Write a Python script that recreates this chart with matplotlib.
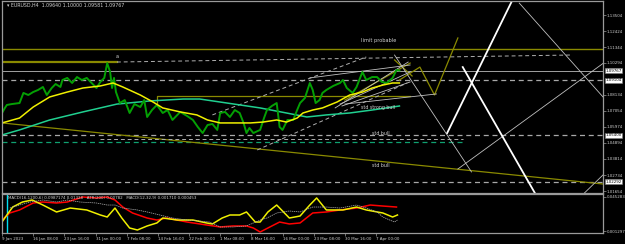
import matplotlib.pyplot as plt

BG = "black"
FG = "#d0d0d0"
FRAME = "#9a9a9a"
OLIVE = "#8a8a00"
YELLOW = "#f0f000"
TEAL = "#20d090"
GREEN = "#04a004"

# ---- price (H4 bar index -> close) ----
price_bar = [0, 3, 5, 10, 18, 22, 27, 32, 37, 42,
             46, 51, 55, 60, 62, 67, 72, 77, 82, 87,
             93, 97, 101, 105, 108, 111, 113, 115, 117, 121,
             126, 131, 136, 142, 146, 149, 154, 159, 165, 170,
             175, 183, 190, 196, 201, 206, 211, 216, 221, 224,
             229, 234, 239, 244, 248, 251, 254, 258, 265, 269,
             272, 277, 282, 285, 288, 293, 299, 303, 306, 311,
             316, 319, 322, 326, 329, 333, 340, 347, 350, 354,
             360, 364, 370, 374, 380, 385, 390, 395, 401, 405, 408]
price_close = [1.0691, 1.0725, 1.0745, 1.0751, 1.0758, 1.0826, 1.0812, 1.0832, 1.0846, 1.0866,
               1.0812, 1.0859, 1.0886, 1.0866, 1.0913, 1.0927, 1.0893, 1.0933, 1.0913, 1.0927,
               1.0886, 1.0859, 1.0900, 1.0927, 1.1027, 1.0967, 1.0859, 1.0927, 1.0832, 1.0758,
               1.0778, 1.0691, 1.0751, 1.0731, 1.0778, 1.0664, 1.0711, 1.0745, 1.0691, 1.0711,
               1.0644, 1.0698, 1.0671, 1.0644, 1.0597, 1.0556, 1.0610, 1.0617, 1.0577, 1.0691,
               1.0698, 1.0664, 1.0711, 1.0691, 1.0624, 1.0556, 1.0590, 1.0556, 1.0577, 1.0657,
               1.0711, 1.0738, 1.0758, 1.0597, 1.0577, 1.0644, 1.0644, 1.0711, 1.0758, 1.0792,
               1.0893, 1.0846, 1.0758, 1.0778, 1.0826, 1.0846, 1.0873, 1.0893, 1.0913, 1.0859,
               1.0826, 1.0866, 1.0967, 1.0913, 1.0933, 1.0933, 1.0900, 1.0893, 1.0927, 1.0980, 1.0977]

ma_fast_bar = [0, 18, 32, 49, 67, 83, 101, 114, 124, 142, 155, 165, 183, 200, 211, 224,
               237, 255, 268, 282, 292, 303, 309, 319, 329, 344, 357, 370, 380, 391, 401, 408]
ma_fast = [1.0624, 1.0657, 1.0731, 1.0799, 1.0832, 1.0859, 1.0873, 1.0893, 1.0866, 1.0812,
           1.0765, 1.0725, 1.0698, 1.0678, 1.0644, 1.0624, 1.0624, 1.0624, 1.0630, 1.0644,
           1.0630, 1.0657, 1.0691, 1.0711, 1.0725, 1.0765, 1.0812, 1.0832, 1.0859, 1.0879,
           1.0893, 1.0893]

ma_slow_bar = [0, 18, 49, 83, 118, 152, 186, 203, 231, 265, 292, 313, 333, 357, 380, 408]
ma_slow = [1.0543, 1.0577, 1.0644, 1.0698, 1.0751, 1.0772, 1.0785, 1.0785, 1.0758, 1.0725,
           1.0691, 1.0664, 1.0678, 1.0691, 1.0711, 1.0738]

# ---- levels and drawn objects ----
limit_probable = 1.1122
bid = 1.09767
dashed_levels = [1.09104, 1.05400, 1.02292]
a_bar, a_high = 118, 1.1034
teal_level = (0, 475, 1.0496)

olive_lines = [
    ([0, 617], [1.0624, 1.0213]),
    ([159, 159, 419], [1.0758, 1.0805, 1.0805]),
    ([352, 419], [1.0778, 1.1027]),
    ([403, 421], [1.1048, 1.0940]),
    ([408, 429, 444, 468], [1.0913, 1.1000, 1.0812, 1.1196]),
]
grey_dashed_lines = [
    ([a_bar, 583], [a_high, 1.1081]),
    ([216, 374], [1.0678, 1.1068]),
    ([262, 416], [1.0442, 1.0893]),
    ([101, 473], [1.0516, 1.0516]),
]
grey_thin_lines = [
    ([316, 419], [1.0927, 1.1014]),
    ([342, 417], [1.0725, 1.1034]),
    ([347, 419], [1.0751, 1.0967]),
    ([349, 419], [1.0738, 1.0900]),
    ([352, 446], [1.0751, 1.0819]),
    ([531, 617], [1.1431, 1.0799]),
    ([468, 619], [1.0314, 1.1034]),
    ([403, 482], [1.1081, 1.0294]),
    ([598, 617], [1.0153, 1.0274]),
]
white_lines = [
    ([457, 524], [1.0556, 1.1451]),
    ([473, 547], [1.1000, 1.0153]),
]

price_ticks = [1.13504, 1.12424, 1.11344, 1.10294, 1.08134, 1.07054,
               1.05974, 1.04894, 1.03814, 1.02734, 1.01654]

# ---- indicator window ----
ind_yellow_bar = [0, 5, 11, 21, 31, 42, 56, 70, 87, 101, 108, 116, 123, 131, 139, 149, 159, 165,
                  180, 196, 210, 216, 226, 234, 244, 251, 260, 265, 273, 282, 295, 306, 316,
                  323, 333, 350, 364, 374, 391, 401, 406]
ind_yellow = [0.0129, 0.0220, 0.0323, 0.0388, 0.0414, 0.0349, 0.0259, 0.0310, 0.0285, 0.0220,
              0.0194, 0.0310, 0.0181, 0.0052, 0.0026, 0.0078, 0.0117, 0.0181, 0.0155, 0.0155,
              0.0117, 0.0104, 0.0181, 0.0220, 0.0220, 0.0259, 0.0129, 0.0129, 0.0259, 0.0349,
              0.0181, 0.0207, 0.0349, 0.0440, 0.0285, 0.0285, 0.0323, 0.0285, 0.0246, 0.0194,
              0.0220]
ind_red_bar = [0, 8, 18, 32, 42, 56, 67, 83, 97, 108, 116, 124, 134, 149, 159, 169, 190, 210,
               224, 237, 251, 258, 265, 275, 285, 295, 306, 319, 333, 347, 364, 378, 391, 405]
ind_red = [0.0155, 0.0246, 0.0285, 0.0375, 0.0388, 0.0375, 0.0388, 0.0453, 0.0440, 0.0453,
           0.0414, 0.0323, 0.0246, 0.0181, 0.0155, 0.0181, 0.0129, 0.0091, 0.0065, 0.0078,
           0.0078, 0.0052, 0.0000, 0.0065, 0.0129, 0.0104, 0.0117, 0.0246, 0.0259, 0.0285,
           0.0310, 0.0349, 0.0336, 0.0323]
ind_grey_bar = [8, 18, 29, 42, 56, 67, 80, 97, 108, 116, 124, 139, 149, 162, 175, 190, 203, 213,
                224, 237, 251, 265, 272, 282, 295, 306, 319, 333, 347, 364, 374, 385, 391, 398,
                403, 406]
ind_grey = [0.0310, 0.0349, 0.0388, 0.0414, 0.0388, 0.0414, 0.0388, 0.0375, 0.0349, 0.0349,
            0.0310, 0.0285, 0.0259, 0.0220, 0.0181, 0.0155, 0.0142, 0.0129, 0.0065, 0.0065,
            0.0078, 0.0155, 0.0181, 0.0246, 0.0272, 0.0259, 0.0323, 0.0323, 0.0310, 0.0349,
            0.0310, 0.0259, 0.0194, 0.0155, 0.0129, 0.0155]
ind_ticks = [0.045283, 0.001297]

time_labels = ["9 Jan 2023", "16 Jan 08:00", "23 Jan 16:00", "31 Jan 00:00", "7 Feb 08:00",
               "14 Feb 16:00", "22 Feb 00:00", "1 Mar 08:00", "8 Mar 16:00", "16 Mar 00:00",
               "23 Mar 08:00", "30 Mar 16:00", "7 Apr 00:00"]
bars_per_label = 32

W, H = 625, 244


def box(x0, y0, x1, y1):
    return [x0 / W, 1 - y1 / H, (x1 - x0) / W, (y1 - y0) / H]


fig = plt.figure(figsize=(6.25, 2.44), dpi=100, facecolor=BG)
ax = fig.add_axes(box(2, 1, 603, 193))
axi = fig.add_axes(box(2, 194, 603, 233))

for a in (ax, axi):
    a.set_facecolor(BG)
    for s in a.spines.values():
        s.set_color(FRAME)
        s.set_linewidth(0.9)
    a.yaxis.tick_right()
    a.tick_params(axis="y", colors=FRAME, labelcolor=FG, labelsize=2.9,
                  length=2, width=0.5, pad=0.8)
    a.set_xlim(0, 617)

ax.set_ylim(1.01525, 1.14447)
axi.set_ylim(-0.00129, 0.049164)

# --- main window ---
ax.axhline(limit_probable, color=OLIVE, lw=1.0)
ax.plot([0, a_bar], [a_high, a_high], color=OLIVE, lw=1.6)
ax.axhline(bid, color="#a0a0a0", lw=0.7)
for lv in dashed_levels:
    ax.axhline(lv, color="#a8a8a8", lw=0.9, dashes=(4, 3))
ax.plot(teal_level[:2], [teal_level[2]] * 2, color="#10a070", lw=0.9, dashes=(4, 3))
for xs, ys in olive_lines:
    ax.plot(xs, ys, color=OLIVE, lw=0.9)
for xs, ys in grey_dashed_lines:
    ax.plot(xs, ys, color="#b0b0b0", lw=0.7, dashes=(4, 3))
for xs, ys in grey_thin_lines:
    ax.plot(xs, ys, color="#c0c0c0", lw=0.6)
for xs, ys in white_lines:
    ax.plot(xs, ys, color="white", lw=1.3)

ax.plot(ma_slow_bar, ma_slow, color=TEAL, lw=1.1)
ax.plot(price_bar, price_close, color=GREEN, lw=1.4)
ax.plot(ma_fast_bar, ma_fast, color=YELLOW, lw=1.1)

ax.text(a_bar, 1.1068, "a", color=FG, fontsize=3.6, ha="center", va="center")
ax.text(369, 1.1182, "limit probable", color=FG, fontsize=3.6, va="center")
ax.text(369, 1.0725, "std strong bull", color=FG, fontsize=3.4, va="center")
ax.text(380, 1.0556, "std bull", color=FG, fontsize=3.4, va="center")
ax.text(380, 1.0338, "std bull", color=FG, fontsize=3.4, va="center")

ax.tick_params(axis="x", bottom=False, labelbottom=False)
ax.set_yticks(price_ticks)
ax.set_yticklabels([f"{p:.5f}" for p in price_ticks])
ytr = ax.get_yaxis_transform()
for lv in [bid] + dashed_levels:
    ax.text(1.004, lv, f"{lv:.5f}", transform=ytr, color="black", fontsize=2.9,
            va="center", ha="left",
            bbox=dict(boxstyle="square,pad=0.15", fc="white", ec="#808080", lw=0.4))

# --- indicator window ---
axi.axvline(5, color="#00e0f0", lw=1.0)
axi.plot(ind_red_bar, ind_red, color="#ff0000", lw=1.1)
axi.plot(ind_yellow_bar, ind_yellow, color=YELLOW, lw=1.1)
axi.plot(ind_grey_bar, ind_grey, color="#b0b0b0", lw=0.5, dashes=(2, 1))
axi.set_yticks(ind_ticks)
axi.set_yticklabels([f"{v:.6f}" for v in ind_ticks])
axi.set_xticks([i * bars_per_label for i in range(len(time_labels))])
axi.set_xticklabels(time_labels)
axi.tick_params(axis="x", colors=FRAME, labelcolor=FG, labelsize=2.9,
                length=2, width=0.5, pad=1)
for lbl in axi.get_xticklabels():
    lbl.set_ha("left")

fig.text(7 / W, 1 - 5 / H, "\u25be EURUSD,H4  1.09640 1.10000 1.09581 1.09767",
         color=FG, fontsize=3.4, va="center")
fig.text(8 / W, 1 - 198 / H,
         "MACD(16,1200,6) 0.0987174 0.01328   ATR(200) 0.00782   MACD(12,32,9) 0.001710 0.000453",
         color=FG, fontsize=2.9, va="center")

fig.savefig("out.png", dpi=100, facecolor=BG)
